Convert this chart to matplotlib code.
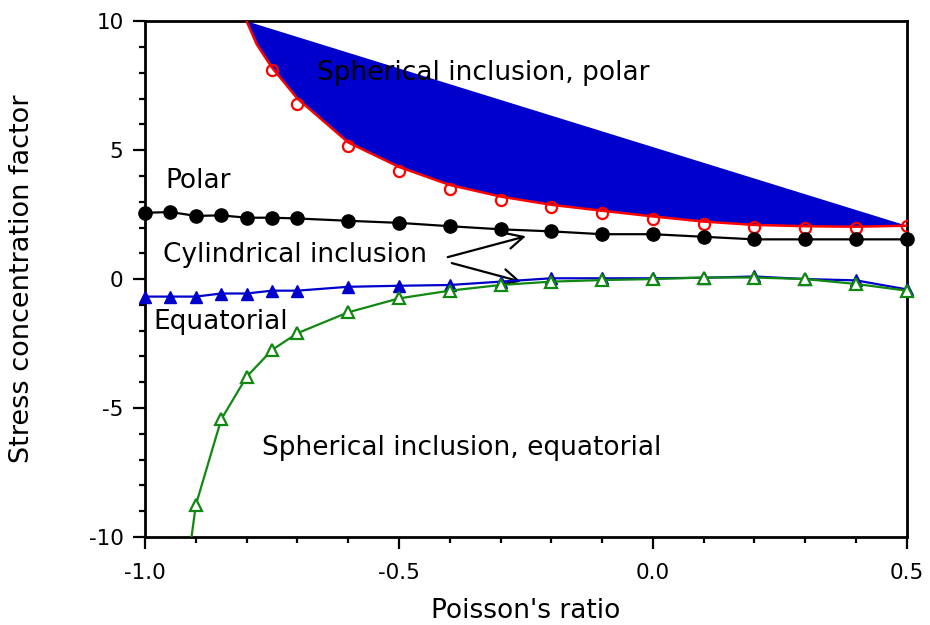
import matplotlib
matplotlib.use("Agg")
import matplotlib.pyplot as plt
from matplotlib.ticker import MultipleLocator, FormatStrFormatter

plt.rcParams["axes.unicode_minus"] = False

# spherical inclusion, polar (open red circles)
sph_polar_x = [-0.75, -0.7, -0.6, -0.5, -0.4, -0.3, -0.2, -0.1, 0.0, 0.1, 0.2, 0.3, 0.4, 0.5]
sph_polar_y = [8.1, 6.8, 5.15, 4.2, 3.5, 3.08, 2.78, 2.55, 2.33, 2.13, 2.02, 1.98, 1.98, 2.05]
# fitted curve for spherical polar
sph_polar_curve_x = [-0.8, -0.78, -0.75, -0.7, -0.6, -0.5, -0.4, -0.3, -0.2, -0.1, 0.0, 0.1, 0.2, 0.3, 0.4, 0.5]
sph_polar_curve_y = [10.0, 9.1, 8.2, 7.0, 5.3, 4.35, 3.65, 3.2, 2.88, 2.65, 2.43, 2.23, 2.1, 2.05, 2.03, 2.07]

# cylindrical inclusion, polar (filled black circles)
cyl_polar_x = [-1.0, -0.95, -0.9, -0.85, -0.8, -0.75, -0.7, -0.6, -0.5, -0.4, -0.3,
               -0.2, -0.1, 0.0, 0.1, 0.2, 0.3, 0.4, 0.5]
cyl_polar_y = [2.57, 2.6, 2.45, 2.47, 2.38, 2.38, 2.35, 2.26, 2.18, 2.05, 1.93,
               1.85, 1.74, 1.74, 1.64, 1.54, 1.54, 1.54, 1.54]

# cylindrical inclusion, equatorial (filled blue triangles)
cyl_eq_x = [-1.0, -0.95, -0.9, -0.85, -0.8, -0.75, -0.7, -0.6, -0.5, -0.4, -0.3,
            -0.2, -0.1, 0.0, 0.1, 0.2, 0.3, 0.4, 0.5]
cyl_eq_y = [-0.68, -0.68, -0.68, -0.56, -0.56, -0.45, -0.45, -0.3, -0.26, -0.23, -0.1,
            0.03, 0.03, 0.03, 0.05, 0.1, 0.0, -0.05, -0.4]

# spherical inclusion, equatorial (open green triangles)
sph_eq_x = [-0.9, -0.85, -0.8, -0.75, -0.7, -0.6, -0.5, -0.4, -0.3, -0.2, -0.1,
            0.0, 0.1, 0.2, 0.3, 0.4, 0.5]
sph_eq_y = [-8.76, -5.44, -3.79, -2.75, -2.1, -1.29, -0.75, -0.45, -0.23, -0.1, -0.04,
            0.0, 0.06, 0.06, 0.0, -0.19, -0.45]
sph_eq_curve_x = [-0.912] + sph_eq_x
sph_eq_curve_y = [-10.5] + sph_eq_y

fig = plt.figure(figsize=(9.3, 6.25), dpi=100)
ax = fig.add_axes([0.156, 0.141, 0.819, 0.825])

fs = 19

# blue shaded region bounded by the spherical polar curve
ax.fill(sph_polar_curve_x, sph_polar_curve_y, color="#0000CC", lw=0, zorder=1)
ax.plot(sph_polar_curve_x, sph_polar_curve_y, color="red", lw=1.8, zorder=3)
ax.plot(sph_polar_x, sph_polar_y, ls="none", marker="o", ms=8, mfc="none",
        mec="red", mew=1.6, zorder=3)

ax.plot(cyl_polar_x, cyl_polar_y, color="black", lw=1.6, marker="o", ms=9.5,
        clip_on=False, zorder=4)

ax.plot(cyl_eq_x, cyl_eq_y, color="#0000CC", lw=1.6, marker="^", ms=8.5,
        clip_on=False, zorder=4)

ax.plot(sph_eq_curve_x, sph_eq_curve_y, color="#118811", lw=1.6, zorder=5)
ax.plot(sph_eq_x, sph_eq_y, ls="none", marker="^", ms=8, mfc="white",
        mec="#118811", mew=1.6, clip_on=False, zorder=5)

ax.text(-0.661, 8.0, "Spherical inclusion, polar", fontsize=fs, va="center", zorder=6)
ax.text(-0.961, 3.8, "Polar", fontsize=fs, va="center")
ax.text(-0.965, 0.93, "Cylindrical inclusion", fontsize=fs, va="center")
ax.text(-0.984, -1.67, "Equatorial", fontsize=fs, va="center")
ax.text(-0.77, -6.55, "Spherical inclusion, equatorial", fontsize=fs, va="center")

arrow = dict(arrowstyle="->", color="black", lw=1.6, mutation_scale=28, shrinkA=0, shrinkB=0)
ax.annotate("", xy=(-0.25, 1.66), xytext=(-0.404, 0.85), arrowprops=arrow)
ax.annotate("", xy=(-0.26, -0.1), xytext=(-0.396, 0.62), arrowprops=arrow)

ax.set_xlim(-1.0, 0.5)
ax.set_ylim(-10, 10)
ax.xaxis.set_major_locator(MultipleLocator(0.5))
ax.xaxis.set_minor_locator(MultipleLocator(0.1))
ax.xaxis.set_major_formatter(FormatStrFormatter("%.1f"))
ax.yaxis.set_major_locator(MultipleLocator(5))
ax.yaxis.set_minor_locator(MultipleLocator(1))

ax.tick_params(which="both", direction="out", width=1.6, labelsize=15.5,
               top=False, right=False)
ax.tick_params(which="major", length=8.5)
ax.tick_params(which="minor", length=4)
ax.tick_params(axis="x", which="major", pad=10)
ax.tick_params(axis="y", which="major", pad=7)
for s in ax.spines.values():
    s.set_linewidth(2)

ax.set_xlabel("Poisson's ratio", fontsize=fs)
ax.set_ylabel("Stress concentration factor", fontsize=19.5)
ax.xaxis.set_label_coords(0.5, -0.118)
ax.yaxis.set_label_coords(-0.145, 0.5)

fig.savefig("out.png", dpi=100)
